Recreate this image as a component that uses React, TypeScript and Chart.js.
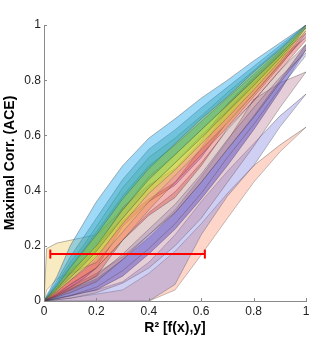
import React, { useEffect, useRef } from 'react';
import { Chart, registerables } from 'chart.js';
Chart.register(...registerables);

// R^2 grid shared by every band
const X = [0, 0.01, 0.05, 0.1, 0.15, 0.2, 0.3, 0.4, 0.5, 0.6, 0.7, 0.8, 0.9, 1];

const xTicks = [0, 0.2, 0.4, 0.6, 0.8, 1];
const yTicks = [0, 0.2, 0.4, 0.6, 0.8, 1];
const xTickLabels = ['0', '0.2', '0.4', '0.6', '0.8', '1'];
const yTickLabels = ['0', '0.2', '0.4', '0.6', '0.8', '1'];

// band upper / lower edges (Maximal Corr. ACE) per R^2
const blueUp = [0, 0.02, 0.09, 0.2, 0.28, 0.36, 0.49, 0.59, 0.66, 0.735, 0.8, 0.87, 0.935, 1];
const blueLo = [0, 0.012, 0.055, 0.12, 0.18, 0.24, 0.37, 0.48, 0.57, 0.66, 0.74, 0.83, 0.91, 1];
const tealUp = [0, 0.016, 0.075, 0.16, 0.23, 0.3, 0.44, 0.55, 0.62, 0.7, 0.775, 0.85, 0.925, 1];
const tealLo = [0, 0.01, 0.045, 0.1, 0.15, 0.2, 0.33, 0.44, 0.53, 0.62, 0.71, 0.8, 0.89, 0.995];
const greenUp = [0, 0.014, 0.065, 0.14, 0.2, 0.27, 0.41, 0.52, 0.59, 0.67, 0.755, 0.835, 0.915, 1];
const greenLo = [0, 0.009, 0.04, 0.085, 0.13, 0.18, 0.3, 0.41, 0.5, 0.59, 0.685, 0.78, 0.88, 0.99];
const limeUp = [0, 0.012, 0.06, 0.125, 0.185, 0.25, 0.38, 0.49, 0.565, 0.65, 0.735, 0.82, 0.905, 0.995];
const limeLo = [0, 0.008, 0.035, 0.075, 0.115, 0.16, 0.28, 0.39, 0.475, 0.57, 0.665, 0.765, 0.87, 0.99];
const beigeUp = [0, 0.19, 0.21, 0.22, 0.23, 0.24, 0.33, 0.45, 0.53, 0.62, 0.71, 0.8, 0.895, 0.99];
const beigeLo = [0, 0.04, 0.08, 0.1, 0.12, 0.14, 0.25, 0.36, 0.455, 0.55, 0.645, 0.75, 0.86, 0.98];
const orangeUp = [0, 0.01, 0.05, 0.11, 0.15, 0.2, 0.3, 0.41, 0.5, 0.6, 0.69, 0.79, 0.885, 0.98];
const orangeLo = [0, 0.006, 0.025, 0.06, 0.09, 0.12, 0.22, 0.33, 0.43, 0.53, 0.63, 0.74, 0.85, 0.97];
const pinkUp = [0, 0.009, 0.045, 0.1, 0.14, 0.19, 0.34, 0.42, 0.48, 0.58, 0.715, 0.81, 0.9, 0.97];
const pinkLo = [0, 0.005, 0.02, 0.05, 0.08, 0.12, 0.27, 0.36, 0.42, 0.52, 0.65, 0.75, 0.855, 0.96];
const redUp = [0, 0.007, 0.035, 0.075, 0.11, 0.15, 0.29, 0.37, 0.43, 0.555, 0.69, 0.78, 0.88, 0.955];
const redLo = [0, 0.004, 0.018, 0.04, 0.065, 0.09, 0.22, 0.31, 0.375, 0.49, 0.625, 0.725, 0.835, 0.945];
const roseUp = [0, 0.006, 0.03, 0.06, 0.09, 0.12, 0.22, 0.32, 0.395, 0.5, 0.62, 0.725, 0.835, 0.93];
const roseLo = [0, 0.003, 0.015, 0.03, 0.05, 0.07, 0.15, 0.24, 0.32, 0.43, 0.55, 0.665, 0.79, 0.91];
const periUp = [0, 0.004, 0.02, 0.045, 0.065, 0.09, 0.17, 0.26, 0.35, 0.46, 0.585, 0.7, 0.81, 0.9];
const periLo = [0, 0.002, 0.01, 0.02, 0.035, 0.05, 0.11, 0.19, 0.28, 0.39, 0.52, 0.64, 0.77, 0.89];
const purpleUp = [0, 0.003, 0.015, 0.04, 0.06, 0.08, 0.15, 0.23, 0.32, 0.43, 0.55, 0.67, 0.8, 0.93];
const purpleLo = [0, 0.002, 0.008, 0.018, 0.03, 0.04, 0.09, 0.17, 0.26, 0.37, 0.49, 0.62, 0.76, 0.91];
const mauveUp = [0, 0.004, 0.025, 0.05, 0.075, 0.1, 0.16, 0.24, 0.33, 0.45, 0.58, 0.73, 0.79, 0.83];
const mauveLo = [0, 0.002, 0.005, 0.01, 0.02, 0.03, 0.065, 0.12, 0.2, 0.3, 0.43, 0.56, 0.7, 0.83];
const lavUp = [0, 0.002, 0.01, 0.02, 0.03, 0.04, 0.07, 0.14, 0.24, 0.36, 0.47, 0.57, 0.67, 0.75];
const lavLo = [0, 0, 0, 0, 0, 0, 0, 0, 0.06, 0.24, 0.38, 0.49, 0.63, 0.75];
const peachUp = [0, 0.001, 0.005, 0.01, 0.018, 0.025, 0.04, 0.1, 0.18, 0.28, 0.39, 0.49, 0.565, 0.63];
const peachLo = [0, 0, 0, 0, 0, 0, 0, 0, 0.04, 0.167, 0.3, 0.43, 0.54, 0.63];

// error bar (spread of R^2 at a fixed ACE)
const errY = 0.17;
const errX = [0.024, 0.614];

const bands = [
  { up: blueUp, lo: blueLo, color: 'rgba(40,170,240,0.45)' },
  { up: tealUp, lo: tealLo, color: 'rgba(40,150,130,0.38)' },
  { up: greenUp, lo: greenLo, color: 'rgba(90,165,40,0.32)' },
  { up: limeUp, lo: limeLo, color: 'rgba(175,235,40,0.45)' },
  { up: beigeUp, lo: beigeLo, color: 'rgba(240,205,100,0.4)' },
  { up: orangeUp, lo: orangeLo, color: 'rgba(240,125,40,0.35)' },
  { up: pinkUp, lo: pinkLo, color: 'rgba(200,50,135,0.35)' },
  { up: redUp, lo: redLo, color: 'rgba(220,45,45,0.35)' },
  { up: roseUp, lo: roseLo, color: 'rgba(165,95,95,0.3)' },
  { up: periUp, lo: periLo, color: 'rgba(140,140,220,0.35)' },
  { up: purpleUp, lo: purpleLo, color: 'rgba(60,45,185,0.4)' },
  { up: mauveUp, lo: mauveLo, color: 'rgba(190,125,155,0.38)' },
  { up: lavUp, lo: lavLo, color: 'rgba(135,135,225,0.4)' },
  { up: peachUp, lo: peachLo, color: 'rgba(250,165,135,0.45)' },
];

const edgeColor = 'rgba(50,50,50,0.5)';

const inwardTicks = {
  id: 'inwardTicks',
  afterDatasetsDraw(chart: any) {
    const { ctx, chartArea, scales } = chart;
    const xs = scales.x;
    const ys = scales.y;
    ctx.save();
    ctx.strokeStyle = '#8a8a8a';
    ctx.lineWidth = 1;
    xTicks.forEach((v) => {
      const px = Math.round(xs.getPixelForValue(v)) + 0.5;
      ctx.beginPath();
      ctx.moveTo(px, chartArea.bottom);
      ctx.lineTo(px, chartArea.bottom - 3);
      ctx.stroke();
    });
    yTicks.forEach((v) => {
      const py = Math.round(ys.getPixelForValue(v)) + 0.5;
      ctx.beginPath();
      ctx.moveTo(chartArea.left, py);
      ctx.lineTo(chartArea.left + 3, py);
      ctx.stroke();
    });
    ctx.restore();
  },
};

export default function App() {
  const ref = useRef<HTMLCanvasElement | null>(null);
  useEffect(() => {
    if (!ref.current) return;
    const datasets: any[] = [];
    datasets.push({
      data: errX.map((x) => ({ x, y: errY })),
      borderColor: 'rgb(255,0,0)',
      borderWidth: 2,
      pointStyle: 'line',
      rotation: 90,
      pointRadius: 4.5,
      pointBorderColor: 'rgb(255,0,0)',
      pointBorderWidth: 2,
      fill: false,
    });
    bands.forEach((b) => {
      datasets.push({
        data: X.map((x, i) => ({ x, y: b.up[i] })),
        borderColor: edgeColor,
        borderWidth: 0.7,
        backgroundColor: b.color,
        pointRadius: 0,
        fill: '+1',
      });
      datasets.push({
        data: X.map((x, i) => ({ x, y: b.lo[i] })),
        borderColor: edgeColor,
        borderWidth: 0.7,
        pointRadius: 0,
        fill: false,
      });
    });
    const chart = new Chart(ref.current, {
      type: 'line',
      data: { datasets },
      options: {
        animation: false,
        responsive: false,
        events: [],
        layout: { padding: { top: 25, right: 23, left: 0, bottom: 0 } },
        plugins: { legend: { display: false }, tooltip: { enabled: false } },
        elements: { line: { tension: 0 } },
        scales: {
          x: {
            type: 'linear',
            min: 0,
            max: 1,
            afterFit: (s: any) => { s.height = 38; },
            afterBuildTicks: (s: any) => { s.ticks = xTicks.map((v) => ({ value: v })); },
            ticks: {
              padding: 3,
              color: '#222',
              font: { family: 'Liberation Sans', size: 12 },
              callback: (v: any) => xTickLabels[xTicks.indexOf(Number(v))] ?? '',
              maxRotation: 0,
            },
            grid: { display: true, drawOnChartArea: false, drawTicks: false },
            border: { display: true, color: '#8a8a8a', width: 1 },
            title: {
              display: true,
              text: 'R² [f(x),y]',
              color: '#000',
              font: { family: 'Liberation Sans', size: 14, weight: 'bold' },
              padding: { top: 0, bottom: 2 },
            },
          },
          y: {
            type: 'linear',
            min: 0,
            max: 1,
            afterFit: (s: any) => { s.width = 44; },
            afterBuildTicks: (s: any) => { s.ticks = yTicks.map((v) => ({ value: v })); },
            ticks: {
              padding: 3,
              color: '#222',
              font: { family: 'Liberation Sans', size: 12 },
              callback: (v: any) => yTickLabels[yTicks.indexOf(Number(v))] ?? '',
            },
            grid: { display: true, drawOnChartArea: false, drawTicks: false },
            border: { display: true, color: '#8a8a8a', width: 1 },
            title: {
              display: true,
              text: 'Maximal Corr. (ACE)',
              color: '#000',
              font: { family: 'Liberation Sans', size: 14, weight: 'bold' },
              padding: { top: 2, bottom: 0 },
            },
          },
        },
      },
      plugins: [inwardTicks],
    });
    return () => chart.destroy();
  }, []);
  return (
    <div style={{ position: 'fixed', left: 0, top: 0, width: 329, height: 339, background: '#fff' }}>
      <canvas ref={ref} width={329} height={339} style={{ width: 329, height: 339 }} />
    </div>
  );
}
